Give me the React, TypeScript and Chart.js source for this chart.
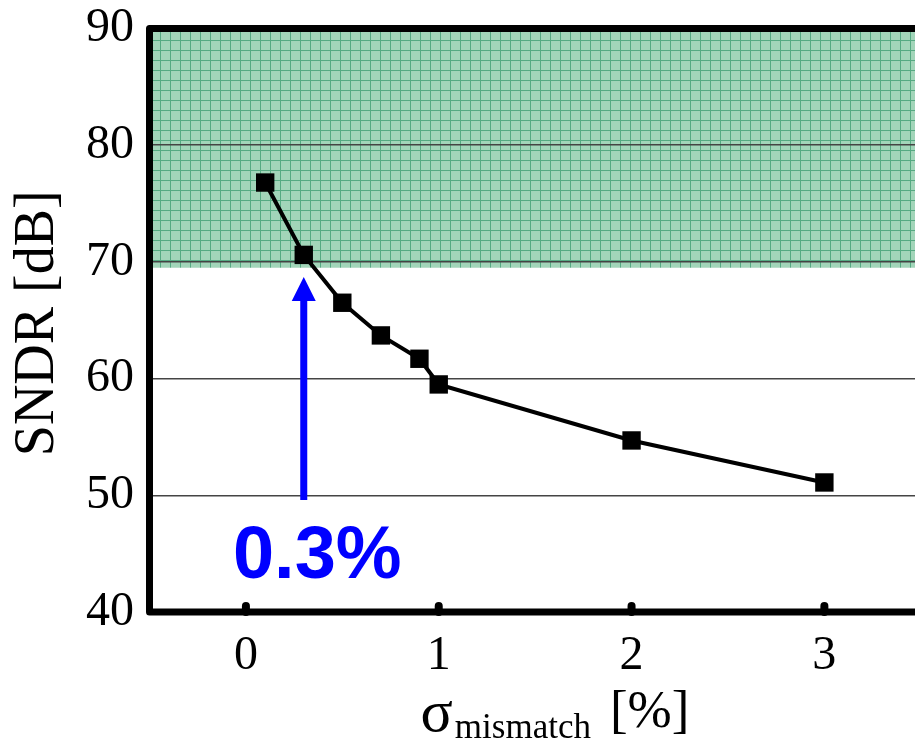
import React, { useEffect, useRef } from "react";
import { Chart, registerables } from "chart.js";

Chart.register(...registerables);

// ---- data ----
const sigmaPct = [0.1, 0.3, 0.5, 0.7, 0.9, 1.0, 2.0, 3.0];
const sndrDb = [76.8, 70.6, 66.5, 63.7, 61.7, 59.5, 54.7, 51.1];
const xTicks = [0, 1, 2, 3];
const yTicks = [40, 50, 60, 70, 80, 90];
const xRange = [-0.5, 3.47];
const yRange = [40, 90];
const targetBand = [69.5, 90];
const arrowX = 0.3;
const arrowFromY = 49.6;
const arrowToY = 68.7;
const arrowLabel = "0.3%";
const arrowLabelPos = [0.37, 42.9];
const yTitle = "SNDR [dB]";
const xTitleMain = "σ";
const xTitleSub = "mismatch";
const xTitleUnit = "[%]";

const SERIF = '"Liberation Serif", "Times New Roman", serif';
const SANS = '"Liberation Sans", Arial, sans-serif';

let bandPattern: CanvasPattern | null = null;
function getPattern(ctx: CanvasRenderingContext2D) {
  if (bandPattern) return bandPattern;
  const c = document.createElement("canvas");
  c.width = 10;
  c.height = 10;
  const p = c.getContext("2d")!;
  p.fillStyle = "#a2d5b9";
  p.fillRect(0, 0, 10, 10);
  p.fillStyle = "#55aa82";
  p.fillRect(0, 0, 1, 10);
  p.fillRect(0, 0, 10, 1);
  bandPattern = ctx.createPattern(c, "repeat");
  return bandPattern;
}

const decor = {
  id: "decor",
  beforeDraw(chart: any) {
    const { ctx, chartArea: a, scales } = chart;
    const y = scales.y;
    ctx.save();
    ctx.fillStyle = "#fff";
    ctx.fillRect(0, 0, chart.width, chart.height);
    const top = y.getPixelForValue(targetBand[1]);
    const bot = y.getPixelForValue(targetBand[0]);
    ctx.fillStyle = getPattern(ctx);
    ctx.fillRect(a.left, top, a.right - a.left + 20, bot - top);
    ctx.restore();
  },
  afterDatasetsDraw(chart: any) {
    const { ctx, chartArea: a, scales } = chart;
    const x = scales.x;
    const y = scales.y;
    ctx.save();
    // frame
    ctx.strokeStyle = "#000";
    ctx.lineWidth = 7;
    ctx.lineJoin = "round";
    ctx.lineCap = "round";
    ctx.beginPath();
    ctx.moveTo(a.right + 20, a.top);
    ctx.lineTo(a.left, a.top);
    ctx.lineTo(a.left, a.bottom);
    ctx.lineTo(a.right + 20, a.bottom);
    ctx.stroke();
    // x tick marks
    ctx.lineWidth = 8;
    for (const v of xTicks) {
      const px = x.getPixelForValue(v);
      ctx.beginPath();
      ctx.moveTo(px, a.bottom);
      ctx.lineTo(px, a.bottom - 6);
      ctx.stroke();
    }
    // arrow
    const ax = x.getPixelForValue(arrowX);
    const y0 = y.getPixelForValue(arrowFromY);
    const y1 = y.getPixelForValue(arrowToY);
    ctx.strokeStyle = "#0000ff";
    ctx.fillStyle = "#0000ff";
    ctx.lineCap = "butt";
    ctx.lineWidth = 7;
    ctx.beginPath();
    ctx.moveTo(ax, y0);
    ctx.lineTo(ax, y1 + 20);
    ctx.stroke();
    ctx.beginPath();
    ctx.moveTo(ax, y1);
    ctx.lineTo(ax - 12, y1 + 24);
    ctx.lineTo(ax + 12, y1 + 24);
    ctx.closePath();
    ctx.fill();
    ctx.font = `bold 74px ${SANS}`;
    ctx.textAlign = "center";
    ctx.textBaseline = "alphabetic";
    ctx.fillText(arrowLabel, x.getPixelForValue(arrowLabelPos[0]), y.getPixelForValue(arrowLabelPos[1]));
    // y title
    ctx.fillStyle = "#000";
    ctx.save();
    ctx.translate(a.left - 96.5, (a.top + a.bottom) / 2 + 3);
    ctx.rotate(-Math.PI / 2);
    ctx.font = `56px ${SERIF}`;
    ctx.textAlign = "center";
    ctx.fillText(yTitle, 0, 0);
    ctx.restore();
    // x title
    ctx.textAlign = "left";
    let cx = a.left + 271;
    ctx.font = `60px ${SERIF}`;
    ctx.fillText(xTitleMain, cx, 731);
    cx += ctx.measureText(xTitleMain).width + 2;
    ctx.font = `35px ${SERIF}`;
    ctx.fillText(xTitleSub, cx, 738);
    cx += ctx.measureText(xTitleSub).width + 19;
    ctx.font = `53px ${SERIF}`;
    ctx.fillText(xTitleUnit, cx, 727);
    ctx.restore();
  },
};

export default function App() {
  const ref = useRef<HTMLCanvasElement>(null);
  useEffect(() => {
    document.body.style.margin = "0";
    document.body.style.overflow = "hidden";
    const chart = new Chart(ref.current!, {
      type: "line",
      data: {
        datasets: [
          {
            data: sigmaPct.map((v, i) => ({ x: v, y: sndrDb[i] })),
            borderColor: "#000",
            backgroundColor: "#000",
            borderWidth: 4,
            pointStyle: "rect",
            pointRadius: 13,
            pointBorderWidth: 0,
            pointBackgroundColor: "#000",
            tension: 0,
            clip: false as any,
          },
        ],
      },
      options: {
        animation: false,
        responsive: false,
        devicePixelRatio: 1,
        layout: { autoPadding: false, padding: { top: 28.5, left: 0, right: 0, bottom: 0 } },
        plugins: { legend: { display: false }, tooltip: { enabled: false } },
        scales: {
          x: {
            type: "linear",
            min: xRange[0],
            max: xRange[1],
            afterBuildTicks: (s: any) => {
              s.ticks = xTicks.map((v) => ({ value: v }));
            },
            afterFit: (s: any) => {
              s.height = 132;
              s.paddingLeft = 0;
              s.paddingRight = 0;
            },
            grid: { display: false, drawTicks: false },
            border: { display: false },
            ticks: {
              font: { family: SERIF, size: 48 },
              color: "#000",
              padding: 16,
              maxRotation: 0,
              autoSkip: false,
            },
          },
          y: {
            type: "linear",
            min: yRange[0],
            max: yRange[1],
            afterBuildTicks: (s: any) => {
              s.ticks = yTicks.map((v) => ({ value: v }));
            },
            afterFit: (s: any) => {
              s.width = 149.5;
              s.paddingTop = 0;
              s.paddingBottom = 0;
            },
            grid: { color: "#444", lineWidth: 1.5, drawTicks: false },
            border: { display: false },
            ticks: {
              font: { family: SERIF, size: 48 },
              color: "#000",
              padding: 15.5,
              autoSkip: false,
            },
          },
        },
      },
      plugins: [decor],
    });
    return () => chart.destroy();
  }, []);
  return (
    <div style={{ width: 915, height: 744 }}>
      <canvas ref={ref} width={915} height={744} style={{ display: "block" }} />
    </div>
  );
}
